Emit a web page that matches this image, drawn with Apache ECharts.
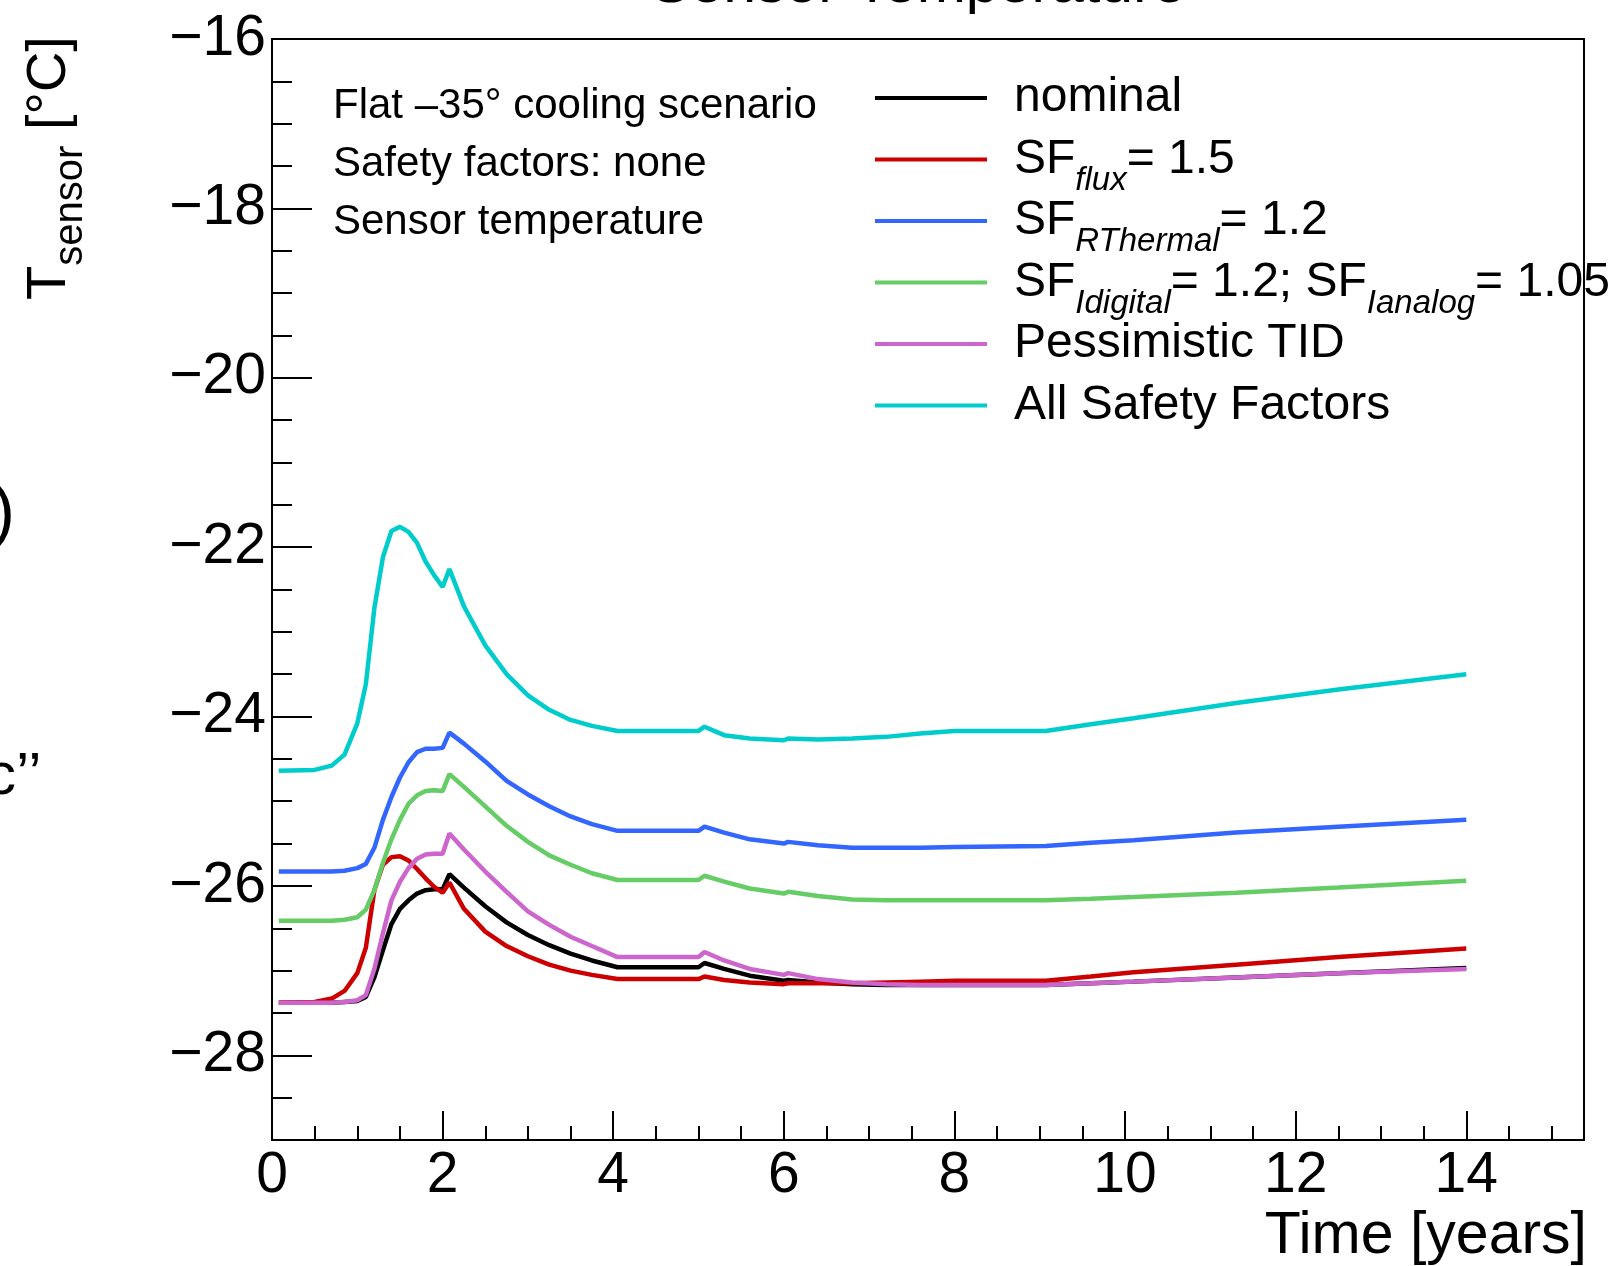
<!DOCTYPE html>
<html>
<head>
<meta charset="utf-8">
<script src="https://cdn.jsdelivr.net/npm/echarts@6/dist/echarts.min.js"></script>
<style>
html,body{margin:0;padding:0;background:#fff;}
#chart{width:1615px;height:1266px;}
</style>
</head>
<body>
<div id="chart"></div>
<script>
const FONT = '"Liberation Sans", Arial, Helvetica, sans-serif';

const years = [0.08, 0.5, 0.7, 0.85, 1.0, 1.1, 1.2, 1.3, 1.4, 1.5, 1.6, 1.7, 1.8, 1.9, 2.0, 2.08, 2.25, 2.5, 2.75, 3.0, 3.25, 3.5, 3.75, 4.05, 5.0, 5.07, 5.3, 5.6, 6.0, 6.05, 6.4, 6.8, 7.2, 7.6, 8.0, 9.07, 9.6, 10.1, 11.3, 12.5, 14.0];

const nominal = [-27.38, -27.38, -27.38, -27.37, -27.36, -27.31, -27.08, -26.76, -26.45, -26.27, -26.17, -26.09, -26.05, -26.04, -26.04, -25.86, -26.02, -26.24, -26.43, -26.58, -26.70, -26.80, -26.88, -26.96, -26.96, -26.91, -26.98, -27.06, -27.12, -27.11, -27.14, -27.16, -27.17, -27.17, -27.17, -27.17, -27.15, -27.13, -27.08, -27.03, -26.97];
const sfFlux = [-27.38, -27.37, -27.33, -27.24, -27.03, -26.73, -26.05, -25.75, -25.66, -25.65, -25.70, -25.80, -25.91, -26.01, -26.08, -25.96, -26.27, -26.54, -26.71, -26.83, -26.93, -27.00, -27.05, -27.10, -27.10, -27.07, -27.11, -27.14, -27.16, -27.15, -27.15, -27.15, -27.14, -27.13, -27.12, -27.12, -27.07, -27.02, -26.93, -26.84, -26.74];
const sfRThermal = [-25.83, -25.83, -25.83, -25.82, -25.79, -25.74, -25.55, -25.22, -24.95, -24.72, -24.54, -24.42, -24.38, -24.38, -24.37, -24.19, -24.32, -24.53, -24.76, -24.92, -25.06, -25.18, -25.27, -25.35, -25.35, -25.30, -25.37, -25.45, -25.50, -25.48, -25.52, -25.55, -25.55, -25.55, -25.54, -25.53, -25.49, -25.46, -25.37, -25.30, -25.22];
const sfCurrent = [-26.41, -26.41, -26.41, -26.40, -26.37, -26.28, -26.05, -25.73, -25.45, -25.22, -25.03, -24.93, -24.88, -24.87, -24.88, -24.68, -24.83, -25.06, -25.29, -25.48, -25.64, -25.75, -25.85, -25.93, -25.93, -25.88, -25.95, -26.03, -26.09, -26.07, -26.12, -26.16, -26.17, -26.17, -26.17, -26.17, -26.15, -26.13, -26.08, -26.02, -25.94];
const pessimisticTID = [-27.38, -27.38, -27.38, -27.37, -27.35, -27.29, -26.98, -26.56, -26.17, -25.95, -25.79, -25.68, -25.63, -25.62, -25.62, -25.38, -25.57, -25.83, -26.07, -26.30, -26.46, -26.60, -26.71, -26.84, -26.84, -26.78, -26.88, -26.98, -27.05, -27.03, -27.10, -27.14, -27.16, -27.17, -27.17, -27.17, -27.15, -27.13, -27.08, -27.03, -26.98];
const allSafety = [-24.64, -24.63, -24.58, -24.45, -24.08, -23.62, -22.72, -22.12, -21.81, -21.76, -21.82, -21.95, -22.17, -22.33, -22.47, -22.26, -22.70, -23.16, -23.50, -23.75, -23.92, -24.04, -24.11, -24.17, -24.17, -24.12, -24.22, -24.26, -24.28, -24.26, -24.27, -24.26, -24.24, -24.20, -24.17, -24.17, -24.09, -24.02, -23.84, -23.68, -23.50];

const seriesNames = ['nominal', 'SF_flux = 1.5', 'SF_RThermal = 1.2', 'SF_Idigital = 1.2; SF_Ianalog = 1.05', 'Pessimistic TID', 'All Safety Factors'];
const legendRich = [
  '{g| }{m|nominal}{s| }',
  '{g| }{m|SF}{s|flux}{m|= 1.5}',
  '{g| }{m|SF}{s|RThermal}{m|= 1.2}',
  '{g| }{m|SF}{s|Idigital}{m|= 1.2; SF}{s|Ianalog}{m|= 1.05}',
  '{g| }{m|Pessimistic TID}{s| }',
  '{g| }{m|All Safety Factors}{s| }'
];
const seriesValues = [nominal, sfFlux, sfRThermal, sfCurrent, pessimisticTID, allSafety];
const seriesColors = ['#000000', '#cc0000', '#3366ff', '#66cc66', '#cc66cc', '#00cccc'];

const xMajorTicks = [0, 2, 4, 6, 8, 10, 12, 14];
const yMajorTicks = [-28, -26, -24, -22, -20, -18, -16];
const X_MIN = 0, X_MAX = 15.38, Y_MIN = -29, Y_MAX = -16;

const annotations = ['Flat \u201335\u00b0 cooling scenario', 'Safety factors: none', 'Sensor temperature'];

const fmtMinus = v => (v < 0 ? '\u2212' : '') + Math.abs(v);

const chart = echarts.init(document.getElementById('chart'), null, {renderer: 'canvas'});

const series = seriesNames.map((name, i) => ({
  name: name,
  type: 'line',
  xAxisIndex: 0,
  yAxisIndex: 0,
  showSymbol: false,
  symbol: 'none',
  smooth: false,
  color: seriesColors[i],
  itemStyle: {color: seriesColors[i]},
  lineStyle: {color: seriesColors[i], width: 4.5},
  data: years.map((x, j) => [x, seriesValues[i][j]])
}));

const tickLine = {color: '#000', width: 2};
const annStyle = {fontSize: 42, fontFamily: FONT, fill: '#000', align: 'left', verticalAlign: 'middle', textAlign: 'left', textVerticalAlign: 'middle'};

const option = {
  animation: false,
  backgroundColor: '#ffffff',
  textStyle: {fontFamily: FONT},
  title: {
    text: 'Sensor Temperature',
    left: 651,
    top: -44,
    padding: 0,
    textStyle: {fontSize: 59, fontWeight: 'normal', color: '#000', fontFamily: FONT}
  },
  grid: {
    left: 272, right: 31, top: 39, bottom: 124,
    show: true, borderColor: '#000', borderWidth: 2, backgroundColor: 'transparent'
  },
  legend: {
    data: seriesNames,
    orient: 'vertical',
    left: 875,
    top: 74,
    padding: 0,
    itemGap: 0,
    itemWidth: 112,
    itemHeight: 4,
    icon: 'rect',
    selectedMode: false,
    formatter: function (name) { return legendRich[seriesNames.indexOf(name)]; },
    textStyle: {
      color: '#000',
      fontFamily: FONT,
      fontSize: 48,
      rich: {
        g: {width: 22, fontSize: 48, lineHeight: 48},
        m: {fontSize: 48, lineHeight: 48, fontFamily: FONT, color: '#000'},
        s: {fontSize: 33, lineHeight: 14, height: 6, verticalAlign: 'bottom', fontStyle: 'italic', fontFamily: FONT, color: '#000'}
      }
    }
  },
  xAxis: [
    {
      type: 'value', min: X_MIN, max: X_MAX, interval: 2, position: 'bottom',
      axisLine: {show: true, onZero: false, lineStyle: tickLine},
      axisTick: {show: true, inside: true, length: 29, lineStyle: tickLine, customValues: xMajorTicks},
      axisLabel: {show: true, customValues: xMajorTicks, margin: 8, fontSize: 57, color: '#000', fontFamily: FONT},
      splitLine: {show: false},
      name: 'Time [years]',
      nameLocation: 'end',
      nameGap: 3,
      nameTextStyle: {fontSize: 59, color: '#000', fontFamily: FONT, align: 'right', verticalAlign: 'top', padding: [67, 0, 0, 0]}
    },
    {
      type: 'value', min: X_MIN, max: X_MAX, interval: 0.5, position: 'bottom',
      axisLine: {show: false, onZero: false},
      axisTick: {show: true, inside: true, length: 14, lineStyle: tickLine},
      axisLabel: {show: false},
      splitLine: {show: false}
    }
  ],
  yAxis: [
    {
      type: 'value', min: Y_MIN, max: Y_MAX, interval: 1, position: 'left',
      axisLine: {show: true, onZero: false, lineStyle: tickLine},
      axisTick: {show: true, inside: true, length: 40, lineStyle: tickLine, customValues: yMajorTicks},
      axisLabel: {show: true, customValues: yMajorTicks, margin: 6, fontSize: 57, color: '#000', fontFamily: FONT, formatter: fmtMinus},
      splitLine: {show: false}
    },
    {
      type: 'value', min: Y_MIN, max: Y_MAX, interval: 0.5, position: 'left',
      axisLine: {show: false, onZero: false},
      axisTick: {show: true, inside: true, length: 20, lineStyle: tickLine},
      axisLabel: {show: false},
      splitLine: {show: false}
    }
  ],
  graphic: [
    {type: 'text', x: 333, y: 106.5, style: Object.assign({text: annotations[0]}, annStyle)},
    {type: 'text', x: 333, y: 164.5, style: Object.assign({text: annotations[1]}, annStyle)},
    {type: 'text', x: 333, y: 222.5, style: Object.assign({text: annotations[2]}, annStyle)},
    {
      type: 'text', x: 50, y: 168, rotation: Math.PI / 2,
      style: {
        text: '{m|T}{s|sensor}{m| [\u00b0C]}',
        fill: '#000',
        align: 'center', verticalAlign: 'middle', textAlign: 'center', textVerticalAlign: 'middle',
        rich: {
          m: {fontSize: 56, lineHeight: 56, fontFamily: FONT, color: '#000'},
          s: {fontSize: 40, lineHeight: 12, verticalAlign: 'top', padding: [29, 0, 0, 0], fontFamily: FONT, color: '#000'}
        }
      }
    },
    {type: 'text', x: 15, y: 515, style: {text: ')', fontSize: 68, fontFamily: FONT, fill: '#000', align: 'right', verticalAlign: 'middle', textAlign: 'right', textVerticalAlign: 'middle'}},
    {type: 'text', x: -14, y: 777, style: {text: 'c\u2019\u2019', fontSize: 60, fontFamily: FONT, fill: '#000', align: 'left', verticalAlign: 'middle', textAlign: 'left', textVerticalAlign: 'middle'}}
  ],
  series: series
};

chart.setOption(option);
</script>
</body>
</html>
